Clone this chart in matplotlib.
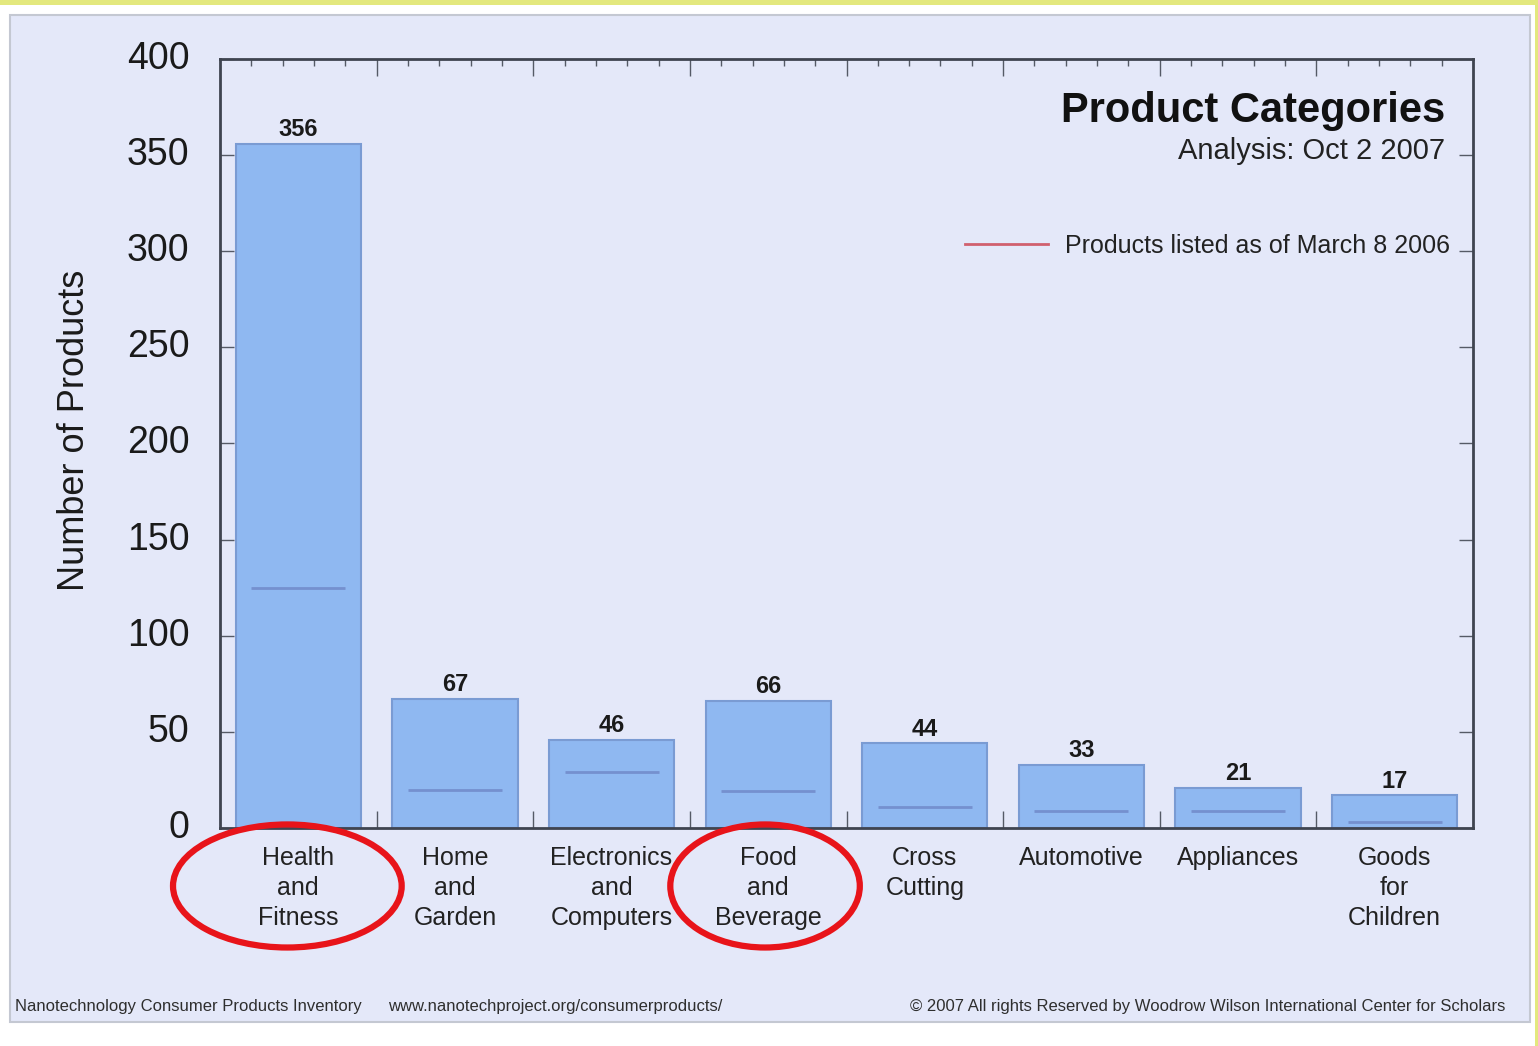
import matplotlib
matplotlib.use('Agg')
import matplotlib.pyplot as plt
from matplotlib.patches import Rectangle, Ellipse
from matplotlib.lines import Line2D
from matplotlib.transforms import blended_transform_factory, ScaledTranslation
import numpy as np

categories = ['Health\nand\nFitness', 'Home\nand\nGarden', 'Electronics\nand\nComputers',
              'Food\nand\nBeverage', 'Cross\nCutting', 'Automotive', 'Appliances',
              'Goods\nfor\nChildren']
counts_2007 = [356, 67, 46, 66, 44, 33, 21, 17]
counts_2006 = [125, 20, 29, 19, 11, 9, 9, 3]
circled = [0, 3]

plt.rcParams['font.family'] = ['Liberation Sans', 'DejaVu Sans']

fig = plt.figure(figsize=(15.38, 10.46), dpi=100)
fig.patch.set_facecolor('white')

# background panel and the yellow border strips
fig.patches.append(Rectangle((10 / 1538, 1 - 1022 / 1046), 1520 / 1538, 1007 / 1046,
                             transform=fig.transFigure, facecolor='#e4e8f9',
                             edgecolor='#c4c8d2', lw=1.5, zorder=-2))
fig.patches.append(Rectangle((0, 1 - 5 / 1046), 1, 5 / 1046, transform=fig.transFigure,
                             facecolor='#e3e87e', edgecolor='none', zorder=-1))
fig.patches.append(Rectangle((1535 / 1538, 0), 3 / 1538, 1, transform=fig.transFigure,
                             facecolor='#e3e87e', edgecolor='none', zorder=-1))

ax = fig.add_axes([220 / 1538, 1 - 828 / 1046, 1253 / 1538, 769 / 1046])
ax.set_facecolor('none')

x = np.arange(len(categories))
bars = ax.bar(x, counts_2007, width=0.8, color='#8fb8f1', edgecolor='#7a9bd3', lw=1.5, zorder=2)
ax.hlines(counts_2006, x - 0.3, x + 0.3, color='#7590cf', lw=2, zorder=3)

for xi, v in zip(x, counts_2007):
    ax.annotate(str(v), (xi, v), xytext=(0, 2), textcoords='offset points',
                ha='center', va='bottom', fontsize=17, fontweight='bold', color='#1a1a1a')

ax.set_xlim(-0.5, len(categories) - 0.5)
ax.set_ylim(0, 400)
ax.set_yticks(np.arange(0, 401, 50))
ax.tick_params(axis='y', direction='in', length=10, width=1, color='#555a66',
               labelsize=27, labelcolor='#1a1a1a', pad=22, right=True)
# numbers sit a little above their ticks
lift = ScaledTranslation(0, 4 / 100, fig.dpi_scale_trans)
for lbl in ax.get_yticklabels():
    lbl.set_transform(lbl.get_transform() + lift)

# tick marks along top and bottom: long at category boundaries, short in between
ax.set_xticks(x[:-1] + 0.5)
ax.set_xticks([xi + d for xi in x for d in (-0.3, -0.1, 0.1, 0.3)], minor=True)
ax.tick_params(axis='x', which='major', direction='in', length=12, width=1,
               color='#555a66', labelbottom=False, top=True)
ax.tick_params(axis='x', which='minor', direction='in', length=5, width=1,
               color='#555a66', top=True)

sec = ax.secondary_xaxis('bottom')
sec.set_xticks(x, categories)
sec.tick_params(length=0, pad=13, labelsize=18, labelcolor='#222222')
sec.spines['bottom'].set_visible(False)
for lbl in sec.get_xticklabels():
    lbl.set_linespacing(1.32)

for s in ax.spines.values():
    s.set_color('#3f4450')
    s.set_linewidth(2)

ax.set_ylabel('Number of Products', fontsize=26, color='#1a1a1a')
ax.yaxis.set_label_coords(-0.102, 0.517)

ax.text(0.978, 0.932, 'Product Categories', transform=ax.transAxes, ha='right',
        va='center', fontsize=30, fontweight='bold', color='#111111')
ax.text(0.978, 0.880, 'Analysis: Oct 2 2007', transform=ax.transAxes, ha='right',
        va='center', fontsize=21, color='#222222')

handle = Line2D([], [], color='#d0606e', lw=2)
ax.legend([handle], ['Products listed as of March 8 2006'], loc='center right',
          bbox_to_anchor=(0.982, 0.757), frameon=False, fontsize=18,
          handlelength=3.3, handletextpad=0.7, borderpad=0, borderaxespad=0,
          labelcolor='#222222')

# red rings around two category labels
tr = blended_transform_factory(ax.transData, ax.transAxes)
for idx, w in zip(circled, [1.46, 1.21]):
    ax.add_patch(Ellipse((idx - 0.07 if idx == 0 else idx - 0.02, -0.0754), w, 0.16,
                         transform=tr, fill=False, edgecolor='#e8141a', lw=4.5,
                         clip_on=False, zorder=5))

fig.text(15 / 1538, 1 - 1006 / 1046, 'Nanotechnology Consumer Products Inventory',
         ha='left', va='center', fontsize=12, color='#2e2e2e')
fig.text(388 / 1538, 1 - 1006 / 1046, 'www.nanotechproject.org/consumerproducts/',
         ha='left', va='center', fontsize=12, color='#2e2e2e')
fig.text(1505 / 1538, 1 - 1006 / 1046,
         '\u00a9 2007 All rights Reserved by Woodrow Wilson International Center for Scholars',
         ha='right', va='center', fontsize=12, color='#2e2e2e')

fig.savefig('out.png', dpi=100)
